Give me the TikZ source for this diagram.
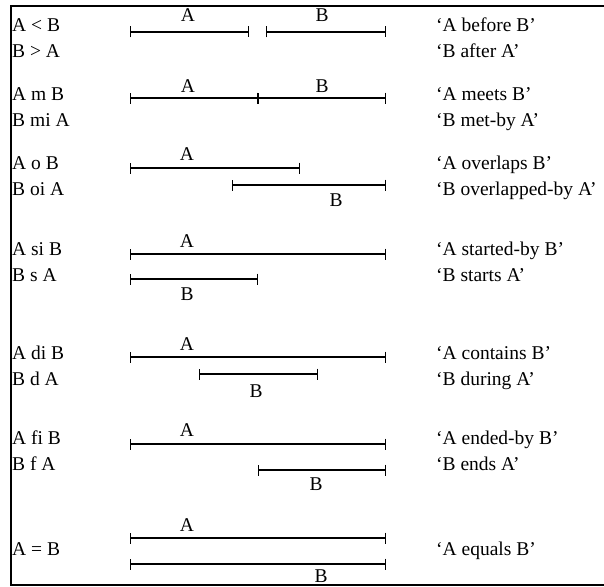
\documentclass[tikz,border=0pt]{standalone}
\usepackage{fontspec}
\setmainfont{Liberation Serif}
\usetikzlibrary{arrows.meta}

\begin{document}
\begin{tikzpicture}[
    x=1pt, y=-1pt,
    interval/.style = {line width=1.1pt, {Bar[width=11pt,line width=1.1pt]}-{Bar[width=11pt,line width=1.1pt]}},
    rel/.style = {anchor=base west, inner sep=0pt, font=\fontsize{19.5}{22}\selectfont},
    lbl/.style = {anchor=base, inner sep=0pt, font=\fontsize{19.5}{22}\selectfont}
    ]
    \useasboundingbox (0,0) rectangle (604,586);
    % frame
    \draw[line width=2pt] (604,6) -- (11,6) -- (11,585) -- (604,585);

    % relation names and readings
    \foreach \y/\l/\r [count=\i] in {32/A < B/‘A before B’, 57/B > A/‘B after A’,
            100/A m B/‘A meets B’, 126/B mi A/‘B met-by A’,
            169/A o B/‘A overlaps B’, 195/B oi A/‘B overlapped-by A’,
            255/A si B/‘A started-by B’, 281/B s A/‘B starts A’,
            359/A di B/‘A contains B’, 385/B d A/‘B during A’,
            444/A fi B/‘A ended-by B’, 470/B f A/‘B ends A’,
            555/A = B/‘A equals B’} {
        \node[rel] (rel\i) at (12,\y) {\l};
        \node[rel] (say\i) at (436,\y) {\r};
    }

    % the intervals
    \foreach \n/\xa/\xb/\y in {a1/130/249/32, b1/266/386/32,
            a2/130/258/98, b2/258/386/98,
            a3/130/300/168, b3/232/386/185,
            a4/130/386/254, b4/130/258/279,
            a5/130/386/357, b5/199/318/374,
            a6/130/386/444, b6/258/386/470,
            a7/130/386/538, b7/130/386/564} {
        \coordinate (\n s) at (\xa,\y);
        \coordinate (\n e) at (\xb,\y);
        \draw[interval] (\n s) -- (\n e);
    }

    % interval letters
    \foreach \n/\x/\y/\t in {la1/188/22/A, lb1/322/22/B,
            la2/188/92/A, lb2/322/92/B,
            la3/187/160/A, lb3/336/206/B,
            la4/187/247/A, lb4/187/300/B,
            la5/187/350/A, lb5/256/397/B,
            la6/187/436/A, lb6/316/490/B,
            la7/187/531/A, lb7/321/582/B} {
        \node[lbl] (\n) at (\x,\y) {\t};
    }
\end{tikzpicture}
\end{document}
